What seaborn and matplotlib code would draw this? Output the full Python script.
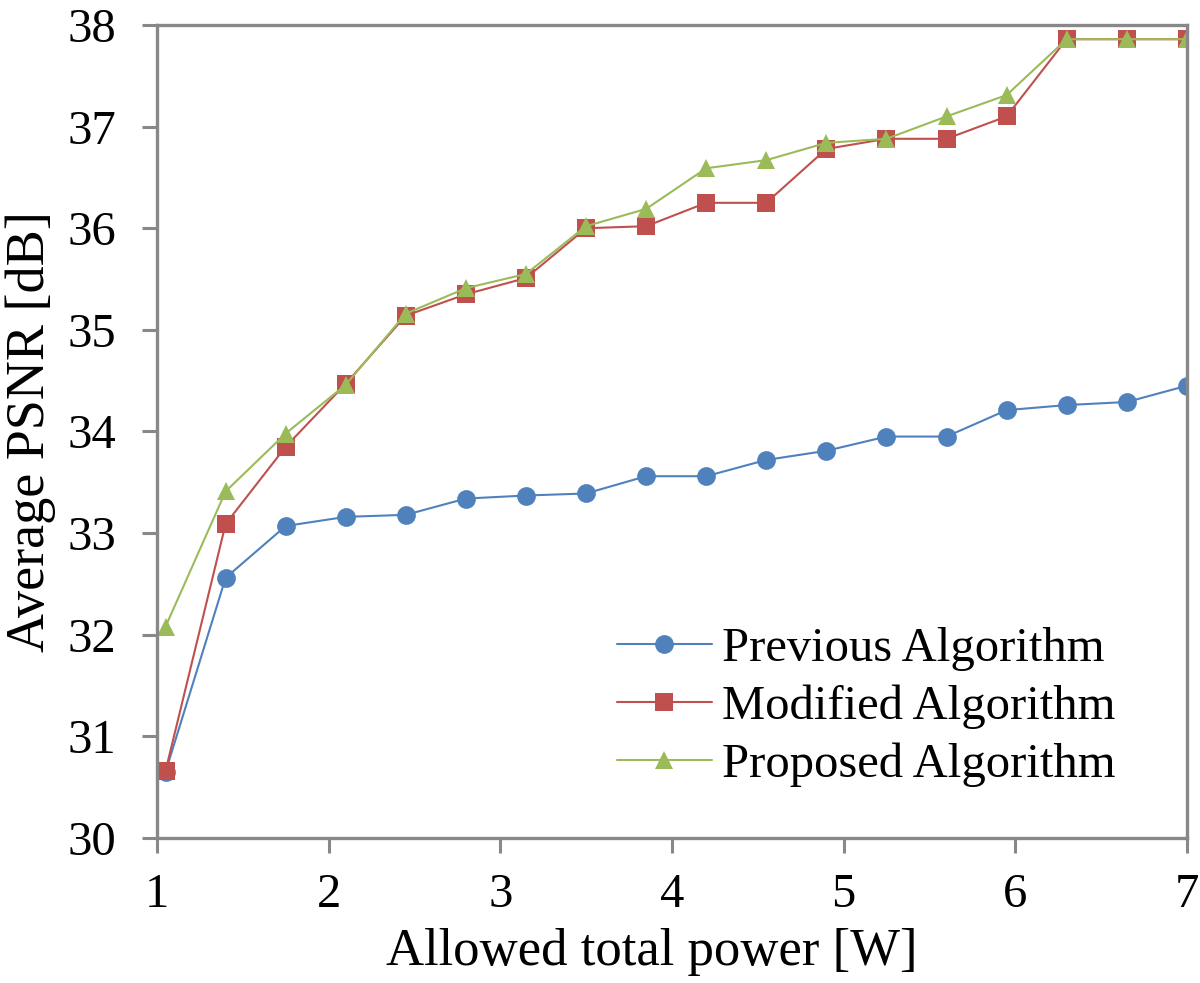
import numpy as np
import pandas as pd
import matplotlib
matplotlib.use("Agg")
import matplotlib.pyplot as plt
import seaborn as sns

# --- data ---
power = [1.05, 1.4, 1.75, 2.1, 2.45, 2.8, 3.15, 3.5, 3.85,
         4.2, 4.55, 4.9, 5.25, 5.6, 5.95, 6.3, 6.65, 7.0]
previous = [30.65, 32.56, 33.07, 33.16, 33.18, 33.34, 33.37, 33.39, 33.56,
            33.56, 33.72, 33.81, 33.95, 33.95, 34.21, 34.26, 34.29, 34.45]
modified = [30.66, 33.09, 33.85, 34.47, 35.14, 35.35, 35.51, 36.00, 36.02,
            36.25, 36.25, 36.78, 36.88, 36.88, 37.10, 37.86, 37.86, 37.86]
proposed = [32.08, 33.41, 33.98, 34.46, 35.16, 35.41, 35.55, 36.02, 36.19,
            36.59, 36.67, 36.84, 36.88, 37.10, 37.31, 37.86, 37.86, 37.86]
series_names = ["Previous Algorithm", "Modified Algorithm", "Proposed Algorithm"]
x_ticks = [1, 2, 3, 4, 5, 6, 7]
y_ticks = [30, 31, 32, 33, 34, 35, 36, 37, 38]

df = pd.DataFrame({
    "power": power * 3,
    "psnr": previous + modified + proposed,
    "algorithm": np.repeat(series_names, len(power)),
})

sns.set_theme(style="white")
plt.rcParams["font.family"] = ["Liberation Serif", "DejaVu Serif"]

fig, ax = plt.subplots(figsize=(12, 9.83), dpi=100)
fig.subplots_adjust(left=0.1308, right=0.989, top=0.9746, bottom=0.1475)

palette = ["#4F81BD", "#C0504D", "#9BBB59"]
sns.lineplot(data=df, x="power", y="psnr", hue="algorithm", style="algorithm",
             markers=["o", "s", "^"], dashes=False, palette=palette,
             markersize=13.5, linewidth=1.5, markeredgewidth=0, ax=ax)

ax.set_xlim(1, 7)
ax.set_ylim(30, 38)
ax.set_xticks(x_ticks)
ax.set_yticks(y_ticks)

grey = "#888888"
for side in ["left", "right", "top", "bottom"]:
    ax.spines[side].set_visible(True)
    ax.spines[side].set_color(grey)
    ax.spines[side].set_linewidth(2.4)
ax.tick_params(bottom=True, left=True, direction="out", length=10.5, width=2.2,
               color=grey, labelsize=35, labelcolor="black")
ax.tick_params(axis="y", pad=19)
ax.tick_params(axis="x", pad=15)

ax.set_xlabel("Allowed total power [W]", fontsize=38, color="black")
ax.set_ylabel("Average PSNR [dB]", fontsize=39, color="black")
ax.xaxis.set_label_coords(0.4806, -0.111)
ax.yaxis.set_label_coords(-0.098, 0.5)

leg = ax.legend(loc="center left", bbox_to_anchor=(617 / 1200, 1 - 707 / 983),
                bbox_transform=fig.transFigure, frameon=False, fontsize=35,
                handlelength=1.95, handletextpad=0.2, labelspacing=0.27,
                borderpad=0, borderaxespad=0)
for t in leg.get_texts():
    t.set_color("black")

fig.savefig("out.png", dpi=100)
